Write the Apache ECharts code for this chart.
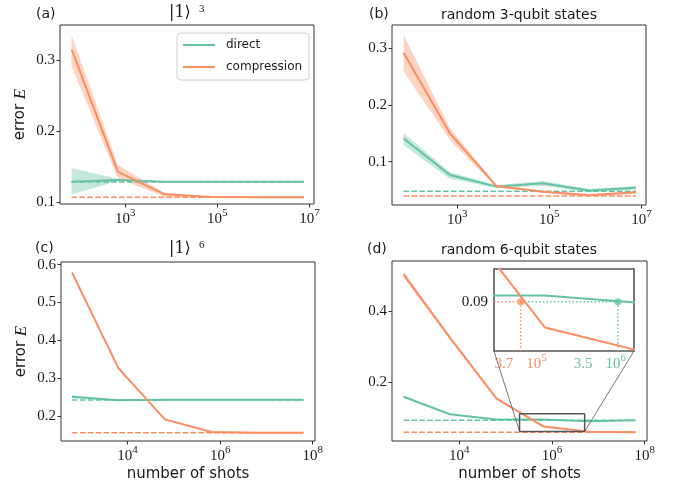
<!DOCTYPE html>
<html><head><meta charset="utf-8">
<script src="https://cdn.jsdelivr.net/npm/echarts@6/dist/echarts.min.js"></script>
<style>html,body{margin:0;padding:0;background:#fff}#c{width:683px;height:485px}</style>
</head><body><div id="c"></div>
<script>
const GREEN = '#66c2a5', ORANGE = '#fc8d62';
const GREEN_BAND = 'rgba(102,194,165,0.38)', ORANGE_BAND = 'rgba(252,141,98,0.38)';
const SERIF = 'Liberation Serif', SANS = 'DejaVu Sans', TXT = '#1a1a1a', SPINE = '#333';

// number of shots
const shots3 = [68, 690, 7100, 72000, 740000, 7600000];
const shots6 = [630, 6300, 64000, 650000, 6300000, 63000000];

// (a) |1>^3
const aDir   = [0.129, 0.1315, 0.129, 0.129, 0.129, 0.129];
const aDirLo = [0.111, 0.130, 0.1283, 0.1285, 0.1285, 0.1285];
const aDirHi = [0.148, 0.1335, 0.1297, 0.1295, 0.1295, 0.1295];
const aCmp   = [0.3155, 0.143, 0.1113, 0.1075, 0.107, 0.107];
const aCmpLo = [0.291, 0.1338, 0.108, 0.1065, 0.1065, 0.1065];
const aCmpHi = [0.3357, 0.1526, 0.1136, 0.1085, 0.1075, 0.1075];
const aRef = [0.1285, 0.107];

// (b) random 3-qubit states
const bDir   = [0.141, 0.0765, 0.056, 0.0618, 0.049, 0.054];
const bDirLo = [0.129, 0.070, 0.053, 0.057, 0.046, 0.051];
const bDirHi = [0.150, 0.082, 0.059, 0.066, 0.052, 0.057];
const bCmp   = [0.292, 0.150, 0.057, 0.047, 0.041, 0.046];
const bCmpLo = [0.259, 0.138, 0.055, 0.045, 0.039, 0.044];
const bCmpHi = [0.3235, 0.159, 0.059, 0.049, 0.043, 0.048];
const bRef = [0.048, 0.0394];

// (c) |1>^6
const cDir   = [0.251, 0.2414, 0.243, 0.243, 0.243, 0.243];
const cDirLo = [0.247, 0.2395, 0.2415, 0.242, 0.242, 0.242];
const cDirHi = [0.255, 0.2432, 0.2445, 0.244, 0.244, 0.244];
const cCmp   = [0.579, 0.3264, 0.1912, 0.1577, 0.156, 0.156];
const cCmpLo = [0.574, 0.323, 0.189, 0.156, 0.155, 0.155];
const cCmpHi = [0.584, 0.330, 0.193, 0.159, 0.157, 0.157];
const cRef = [0.2425, 0.156];

// (d) random 6-qubit states
const dDir   = [0.158, 0.1086, 0.0938, 0.0938, 0.0892, 0.0915];
const dDirLo = [0.155, 0.107, 0.0928, 0.093, 0.0885, 0.0905];
const dDirHi = [0.161, 0.110, 0.0948, 0.0946, 0.0899, 0.0925];
const dCmp   = [0.504, 0.325, 0.153, 0.0743, 0.0595, 0.0575];
const dCmpLo = [0.496, 0.319, 0.150, 0.0728, 0.0585, 0.0565];
const dCmpHi = [0.512, 0.331, 0.156, 0.0758, 0.0605, 0.0585];
const dRef = [0.0917, 0.058];

// inset of (d)
const insetShots = [200000, 5070000];
const insetErr = [0.06, 0.11];
const insetCmpShot = 370000, insetDirShot = 3500000, insetLevel = 0.09;

// tick labels (exponents) and y ticks
const xTicks3 = [3, 5, 7], xTicks6 = [4, 6, 8];
const yTicksA = [0.1, 0.2, 0.3], yTicksB = [0.1, 0.2, 0.3];
const yTicksC = [0.2, 0.3, 0.4, 0.5, 0.6], yTicksD = [0.2, 0.4];

const lg = Math.log10;

const supRich = {
  b: {fontFamily: SERIF, fontSize: 15, color: TXT, lineHeight: 19, verticalAlign: 'bottom'},
  s: {fontFamily: SERIF, fontSize: 11, color: TXT, lineHeight: 11, verticalAlign: 'top'}
};

function xAx(gi, min, max, ticks, name) {
  return {
    type: 'value', gridIndex: gi, min, max,
    splitLine: {show: false}, axisLine: {show: false},
    axisTick: {show: true, length: 3.5, customValues: ticks, lineStyle: {color: SPINE, width: 1}},
    axisLabel: {customValues: ticks, margin: 4, formatter: v => '{b|10}{s|' + Math.round(v) + '}', rich: supRich},
    name: name || '', nameLocation: 'middle', nameGap: 26,
    nameTextStyle: {fontFamily: SANS, fontSize: 15, color: TXT}
  };
}
function yAx(gi, min, max, ticks, withName) {
  return {
    type: 'value', gridIndex: gi, min, max,
    splitLine: {show: false}, axisLine: {show: false},
    axisTick: {show: true, length: 3.5, customValues: ticks, lineStyle: {color: SPINE, width: 1}},
    axisLabel: {customValues: ticks, margin: 5, formatter: v => v.toFixed(1),
      fontFamily: SERIF, fontSize: 15, color: TXT},
    name: withName ? 'error {i|E}' : '', nameLocation: 'middle', nameGap: 31, nameRotate: 90,
    nameTextStyle: {fontFamily: SANS, fontSize: 15, color: TXT,
      rich: {i: {fontFamily: SERIF, fontStyle: 'italic', fontSize: 17, color: TXT}}}
  };
}
function band(gi, xs, lo, hi, fill) {
  return {
    type: 'custom', xAxisIndex: gi, yAxisIndex: gi, silent: true, z: 1,
    data: xs.map((x, i) => [lg(x), lo[i], hi[i]]),
    encode: {x: 0, y: [1, 2]},
    renderItem: (params, api) => {
      if (params.dataIndex !== 0) return null;
      const pts = [];
      xs.forEach((x, i) => pts.push(api.coord([lg(x), hi[i]])));
      for (let i = xs.length - 1; i >= 0; i--) pts.push(api.coord([lg(xs[i]), lo[i]]));
      return {type: 'polygon', shape: {points: pts}, style: {fill}};
    }
  };
}
function line(gi, xs, ys, color, name, z) {
  return {
    type: 'line', name, xAxisIndex: gi, yAxisIndex: gi, silent: true, z: z || 3,
    data: xs.map((x, i) => [lg(x), ys[i]]),
    symbol: 'none', showSymbol: false,
    lineStyle: {color, width: 2}, itemStyle: {color}
  };
}
function ref(gi, xs, y, color) {
  return {
    type: 'line', xAxisIndex: gi, yAxisIndex: gi, silent: true, z: 2,
    data: [[lg(xs[0]), y], [lg(xs[xs.length - 1]), y]],
    symbol: 'none', lineStyle: {color, width: 1.5, type: [5.5, 2.4]}, itemStyle: {color}
  };
}
function seg(gi, pts, color, type, width, z) {
  return {
    type: 'line', xAxisIndex: gi, yAxisIndex: gi, silent: true, z: z || 4,
    data: pts, symbol: 'none', lineStyle: {color, width, type}, itemStyle: {color}
  };
}
function panel(gi, xs, dir, dirLo, dirHi, cmp, cmpLo, cmpHi, refs) {
  return [
    band(gi, xs, dirLo, dirHi, GREEN_BAND),
    band(gi, xs, cmpLo, cmpHi, ORANGE_BAND),
    ref(gi, xs, refs[0], GREEN),
    ref(gi, xs, refs[1], ORANGE),
    line(gi, xs, dir, GREEN, 'direct', 3),
    line(gi, xs, cmp, ORANGE, 'compression', 3)
  ];
}

const ix0 = lg(insetShots[0]), ix1 = lg(insetShots[1]);
const cx = lg(insetCmpShot), dx = lg(insetDirShot);
const DOT = [1.5, 2.2];

const series = [].concat(
  panel(0, shots3, aDir, aDirLo, aDirHi, aCmp, aCmpLo, aCmpHi, aRef),
  panel(1, shots3, bDir, bDirLo, bDirHi, bCmp, bCmpLo, bCmpHi, bRef),
  panel(2, shots6, cDir, cDirLo, cDirHi, cCmp, cCmpLo, cCmpHi, cRef),
  panel(3, shots6, dDir, dDirLo, dDirHi, dCmp, dCmpLo, dCmpHi, dRef),
  [
    // zoom box in (d)
    seg(3, [[ix0, insetErr[0]], [ix1, insetErr[0]], [ix1, insetErr[1]], [ix0, insetErr[1]], [ix0, insetErr[0]]], '#555', 'solid', 1.5, 5),
    // inset
    seg(4, [[ix0, insetLevel], [cx, insetLevel]], ORANGE, DOT, 1.5, 6),
    seg(4, [[cx, insetLevel], [cx, insetErr[0]]], ORANGE, DOT, 1.5, 6),
    seg(4, [[cx, insetLevel], [dx, insetLevel]], GREEN, DOT, 1.5, 6),
    seg(4, [[dx, insetLevel], [dx, insetErr[0]]], GREEN, DOT, 1.5, 6),
    line(4, shots6, dDir, GREEN, 'direct-inset', 7),
    line(4, shots6, dCmp, ORANGE, 'compression-inset', 7),
    {type: 'scatter', xAxisIndex: 4, yAxisIndex: 4, silent: true, z: 8, symbolSize: 7,
      data: [[cx, insetLevel]], itemStyle: {color: ORANGE}},
    {type: 'scatter', xAxisIndex: 4, yAxisIndex: 4, silent: true, z: 8, symbolSize: 7,
      data: [[dx, insetLevel]], itemStyle: {color: GREEN}}
  ]
);

const gridStyle = {show: true, borderColor: SPINE, borderWidth: 1, backgroundColor: 'transparent'};

const option = {
  animation: false,
  backgroundColor: '#fff',
  grid: [
    Object.assign({left: 60, top: 25, width: 254, height: 179}, gridStyle),
    Object.assign({left: 392, top: 25, width: 254, height: 180}, gridStyle),
    Object.assign({left: 61, top: 262, width: 254, height: 179}, gridStyle),
    Object.assign({left: 392, top: 261, width: 255, height: 180}, gridStyle),
    {left: 494, top: 269, width: 140, height: 82, show: true, borderColor: '#555', borderWidth: 1.6, backgroundColor: '#fff'}
  ],
  xAxis: [
    xAx(0, 1.58, 7.10, xTicks3),
    xAx(1, 1.58, 7.10, xTicks3),
    xAx(2, 2.56, 8.05, xTicks6, 'number of shots'),
    xAx(3, 2.55, 8.05, xTicks6, 'number of shots'),
    {type: 'value', gridIndex: 4, min: ix0, max: ix1, splitLine: {show: false}, axisLine: {show: false},
      axisTick: {show: false},
      axisLabel: {customValues: [cx, dx], margin: 2,
        formatter: v => v < 6 ? '{ob|3.7}{sp|}{ob|10}{os|5}' : '{gb|3.5}{sp|}{gb|10}{gs|6}{pad|}',
        rich: {
          ob: {fontFamily: SERIF, fontSize: 15, color: ORANGE, lineHeight: 19, verticalAlign: 'bottom'},
          os: {fontFamily: SERIF, fontSize: 11, color: ORANGE, lineHeight: 11, verticalAlign: 'top'},
          gb: {fontFamily: SERIF, fontSize: 15, color: GREEN, lineHeight: 19, verticalAlign: 'bottom'},
          gs: {fontFamily: SERIF, fontSize: 11, color: GREEN, lineHeight: 11, verticalAlign: 'top'},
          sp: {width: 13},
          pad: {width: 36}
        }}}
  ],
  yAxis: [
    yAx(0, 0.0976, 0.35, yTicksA, true),
    yAx(1, 0.0236, 0.341, yTicksB, false),
    yAx(2, 0.134, 0.607, yTicksC, true),
    yAx(3, 0.033, 0.542, yTicksD, false),
    {type: 'value', gridIndex: 4, min: insetErr[0], max: insetErr[1], splitLine: {show: false}, axisLine: {show: false},
      axisTick: {show: false},
      axisLabel: {customValues: [insetLevel], margin: 6, formatter: v => v.toFixed(2),
        fontFamily: SERIF, fontSize: 15, color: TXT}}
  ],
  legend: {
    data: ['direct', 'compression'], orient: 'vertical', left: 177, top: 33,
    padding: [6, 7, 7, 6], itemGap: 10, itemWidth: 32, itemHeight: 2, icon: 'rect',
    backgroundColor: '#fff', borderColor: '#d0d0d0', borderWidth: 1, borderRadius: 4,
    selectedMode: false,
    textStyle: {fontFamily: SANS, fontSize: 12, color: TXT, padding: [0, 0, 0, 6]}
  },
  graphic: [
    {type: 'text', left: 36, top: 7, style: {text: '(a)', font: '14px "DejaVu Sans"', fill: TXT}},
    {type: 'text', left: 369, top: 7, style: {text: '(b)', font: '14px "DejaVu Sans"', fill: TXT}},
    {type: 'text', left: 35, top: 241, style: {text: '(c)', font: '14px "DejaVu Sans"', fill: TXT}},
    {type: 'text', left: 367, top: 242, style: {text: '(d)', font: '14px "DejaVu Sans"', fill: TXT}},
    {type: 'text', left: 169, top: 5, style: {text: '|1⟩', font: '16px "DejaVu Serif"', fill: TXT}},
    {type: 'text', left: 199, top: 4, style: {text: '3', font: '11px "Liberation Serif"', fill: TXT}},
    {type: 'text', left: 169, top: 241, style: {text: '|1⟩', font: '16px "DejaVu Serif"', fill: TXT}},
    {type: 'text', left: 199, top: 240, style: {text: '6', font: '11px "Liberation Serif"', fill: TXT}},
    {type: 'text', x: 519, y: 15, style: {text: 'random 3-qubit states', font: '14px "DejaVu Sans"', fill: TXT, align: 'center', verticalAlign: 'middle'}},
    {type: 'text', x: 519, y: 250, style: {text: 'random 6-qubit states', font: '14px "DejaVu Sans"', fill: TXT, align: 'center', verticalAlign: 'middle'}}
  ],
  series
};

const chart = echarts.init(document.getElementById('c'));
chart.setOption(option);

// connector lines between zoom box (d) and inset, via axis scales
const p = (gi, pt) => chart.convertToPixel({xAxisIndex: gi, yAxisIndex: gi}, pt);
const bl = p(3, [ix0, insetErr[0]]), br = p(3, [ix1, insetErr[0]]);
const il = p(4, [ix0, insetErr[0]]), ir = p(4, [ix1, insetErr[0]]);
chart.setOption({graphic: option.graphic.concat([
  {type: 'line', z: 10, silent: true, shape: {x1: bl[0], y1: bl[1], x2: il[0], y2: il[1]}, style: {stroke: '#555', lineWidth: 0.8}},
  {type: 'line', z: 10, silent: true, shape: {x1: br[0], y1: br[1], x2: ir[0], y2: ir[1]}, style: {stroke: '#555', lineWidth: 0.8}}
])});
</script></body></html>
